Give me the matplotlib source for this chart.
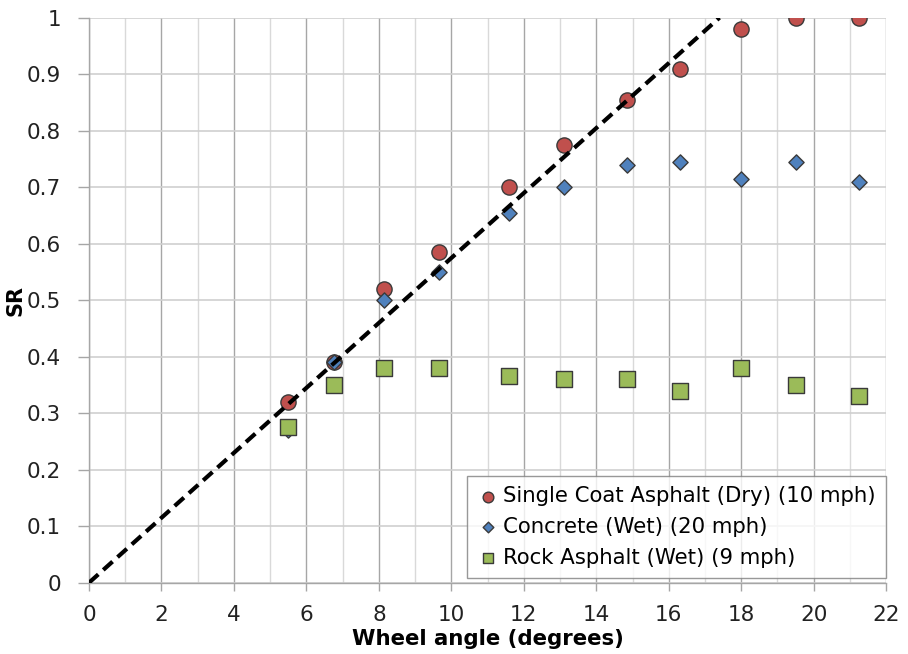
import matplotlib
matplotlib.use("Agg")
import matplotlib.pyplot as plt
from matplotlib.ticker import MultipleLocator

# wheel angle (degrees)
angle = [5.5, 6.75, 8.15, 9.65, 11.6, 13.1, 14.85, 16.3, 18.0, 19.5, 21.25]
# SR values
sr_asphalt_dry = [0.32, 0.39, 0.52, 0.585, 0.70, 0.775, 0.855, 0.91, 0.98, 1.0, 1.0]
sr_concrete_wet = [0.27, 0.39, 0.50, 0.55, 0.655, 0.70, 0.74, 0.745, 0.715, 0.745, 0.71]
sr_rock_wet = [0.275, 0.35, 0.38, 0.38, 0.365, 0.36, 0.36, 0.34, 0.38, 0.35, 0.33]
# dashed reference line
ref_x = [0, 17.4]
ref_y = [0, 1.0]

plt.rcParams['font.family'] = ['DejaVu Sans']

fig = plt.figure(figsize=(9.08, 6.54), dpi=100)
ax = fig.add_axes([0.098, 0.109, 0.878, 0.864])

ax.scatter(angle, sr_asphalt_dry, marker='o', s=120, c='#c0504d',
           edgecolors='#3a3a3a', linewidths=1.0, zorder=3,
           label='Single Coat Asphalt (Dry) (10 mph)')
ax.scatter(angle, sr_concrete_wet, marker='D', s=60, c='#4f81bd',
           edgecolors='#3a3a3a', linewidths=1.0, zorder=4,
           label='Concrete (Wet) (20 mph)')
ax.scatter(angle, sr_rock_wet, marker='s', s=120, c='#9bbb59',
           edgecolors='#3a3a3a', linewidths=1.0, zorder=5,
           label='Rock Asphalt (Wet) (9 mph)')
ax.plot(ref_x, ref_y, color='black', linestyle=(0, (3, 1.6)), linewidth=3, zorder=6)

ax.set_xlim(0, 22)
ax.set_ylim(0, 1)
ax.xaxis.set_major_locator(MultipleLocator(2))
ax.xaxis.set_minor_locator(MultipleLocator(1))
ax.set_yticks([i / 10 for i in range(11)])
ax.set_yticklabels(['0', '0.1', '0.2', '0.3', '0.4', '0.5', '0.6', '0.7', '0.8', '0.9', '1'])

ax.grid(which='major', axis='x', color='#a6a6a6', linewidth=1.0, zorder=0)
ax.grid(which='minor', axis='x', color='#d9d9d9', linewidth=1.0, zorder=0)
ax.grid(which='major', axis='y', color='#cfcfcf', linewidth=1.2, zorder=0)
ax.set_axisbelow(True)

for s in ['top', 'right']:
    ax.spines[s].set_visible(False)
for s in ['left', 'bottom']:
    ax.spines[s].set_color('#a6a6a6')
    ax.spines[s].set_linewidth(1.0)

ax.tick_params(axis='x', which='major', labelsize=15.5, color='#a6a6a6',
               length=6, width=1.0, labelcolor='#222222', pad=10)
ax.tick_params(axis='y', which='major', labelsize=15.5, color='#a6a6a6',
               length=8, width=1.0, labelcolor='#222222', pad=12)
ax.tick_params(axis='x', which='minor', length=0)

ax.set_xlabel('Wheel angle (degrees)', fontsize=15.3, fontweight='bold', labelpad=3)
ax.set_ylabel('SR', fontsize=15, fontweight='bold', labelpad=1)

leg = ax.legend(loc='lower right', fontsize=15.3, frameon=True, fancybox=False,
                edgecolor='#7f7f7f', handletextpad=0.2, handlelength=1.0,
                borderpad=0.5, labelspacing=0.5, markerscale=0.7,
                bbox_to_anchor=(1.0, 0.008), borderaxespad=0.0)
leg.get_frame().set_linewidth(1.0)

fig.savefig('out.png', dpi=100, facecolor='white')
